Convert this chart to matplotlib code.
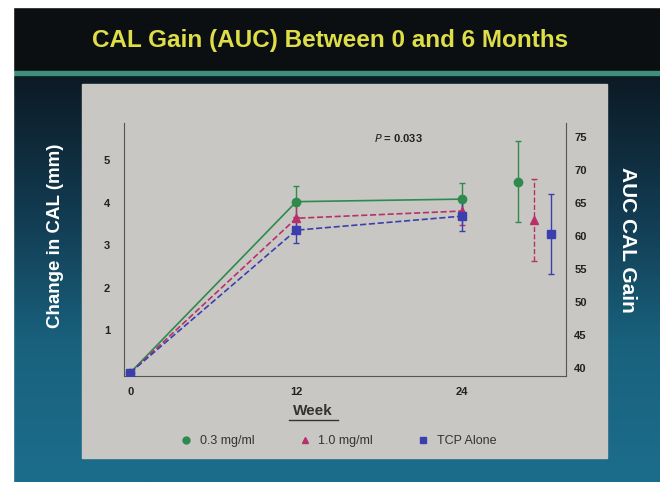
import numpy as np
import matplotlib
matplotlib.use("Agg")
import matplotlib.pyplot as plt
from matplotlib.patches import Rectangle
from matplotlib.lines import Line2D

plt.rcParams['font.family'] = ['Liberation Sans', 'DejaVu Sans']

# data
weeks = [0, 12, 24]
week_labels = ["0", "12", "24"]
series_names = ["0.3 mg/ml", "1.0 mg/ml", "TCP Alone"]
cal_low = [0.0, 4.02, 4.08]
cal_low_err = [0.0, 0.38, 0.38]
cal_high = [0.0, 3.63, 3.8]
cal_high_err = [0.0, 0.32, 0.32]
cal_tcp = [0.0, 3.35, 3.68]
cal_tcp_err = [0.0, 0.3, 0.36]
auc_values = [68.2, 62.4, 60.3]
auc_err = [6.1, 6.2, 6.0]

colors = ["#2f8a4e", "#b8306a", "#3b3fae"]
markers = ["o", "^", "s"]
styles = ["-", "--", "--"]
err_styles = ["-", "--", "-"]

fig = plt.figure(figsize=(6.6, 4.82), dpi=100)

# background (pixel coords)
bg = fig.add_axes([0, 0, 1, 1])
bg.set_xlim(0, 660)
bg.set_ylim(482, 0)
bg.axis("off")
grad = np.linspace(0, 1, 200).reshape(-1, 1)
cmap = matplotlib.colors.LinearSegmentedColormap.from_list(
    "bgc", ["#0c1a24", "#123a50", "#19627e", "#1c6d8c"])
bg.imshow(grad, cmap=cmap, extent=[13, 660, 482, 75], aspect="auto", zorder=0)
bg.add_patch(Rectangle((13, 7), 647, 68, color="#0b0f12", zorder=1))
bg.add_patch(Rectangle((13, 71), 647, 4, color="#3f8f7c", zorder=2))
bg.add_patch(Rectangle((0, 0), 13, 482, color="white", zorder=3))
bg.add_patch(Rectangle((0, 0), 660, 7, color="white", zorder=3))
bg.add_patch(Rectangle((82, 84), 525, 374, color="#c9c7c3", zorder=2))

fig.text(0.5, 1 - 41 / 482, "CAL Gain (AUC) Between 0 and 6 Months",
         ha="center", va="center", color="#dede48", fontsize=17.5, fontweight="bold")

ax = fig.add_axes([124 / 660, 106 / 482, 442 / 660, 253 / 482])
ax.patch.set_alpha(0)
ax.set_xlim(-0.46, 31.5)
ax.set_ylim(-0.08, 5.87)

data = [(cal_low, cal_low_err), (cal_high, cal_high_err), (cal_tcp, cal_tcp_err)]
for (vals, errs), c, m, ls in zip(data, colors, markers, styles):
    ax.errorbar(weeks, vals, yerr=errs, color=c, marker=m, markersize=6,
                linestyle=ls, linewidth=1.2, elinewidth=1, capsize=2.5, zorder=3)

ax.set_xticks(weeks)
ax.set_xticklabels(week_labels, fontsize=8, fontweight="bold", color="#222222")
ax.set_yticks([1, 2, 3, 4, 5])
ax.tick_params(axis="y", labelsize=8, length=0, colors="#222222", pad=10)
ax.tick_params(axis="x", length=0, pad=8)
for lab in ax.get_yticklabels():
    lab.set_fontweight("bold")
ax.spines["top"].set_visible(False)
ax.spines["right"].set_visible(False)
for s in ["left", "bottom"]:
    ax.spines[s].set_color("#555555")

ax2 = ax.twinx()
ax2.set_ylim(38.8, 77.1)
ax2.set_yticks(range(40, 80, 5))
ax2.tick_params(axis="y", labelsize=8, length=0, colors="#222222", pad=6)
for lab in ax2.get_yticklabels():
    lab.set_fontweight("bold")
ax2.spines["top"].set_visible(False)
ax2.spines["left"].set_visible(False)
ax2.spines["bottom"].set_visible(False)
ax2.spines["right"].set_color("#555555")

auc_x = [28.0, 29.2, 30.4]
for x, v, e, c, m, ls in zip(auc_x, auc_values, auc_err, colors, markers, err_styles):
    eb = ax2.errorbar([x], [v], yerr=[e], color=c, marker=m, markersize=6,
                      elinewidth=1, capsize=2.5, linestyle="none", zorder=3)
    eb[2][0].set_linestyle(ls)

ax.text(0.62, 0.94, "$\\mathbf{\\it{P}}$ = 0.033", transform=ax.transAxes,
        fontsize=8, fontweight="bold", ha="center", va="center", color="#222222")

fig.text(313 / 660, 1 - 411 / 482, "Week", ha="center", va="center",
         fontsize=11, fontweight="bold", color="#333333")
fig.add_artist(Line2D([289 / 660, 338 / 660], [1 - 420 / 482] * 2,
                      color="#333333", linewidth=1))

fig.text(56 / 660, 1 - 236 / 482, "Change in CAL (mm)", rotation=90, ha="center",
         va="center", fontsize=13.5, fontweight="bold", color="white")
fig.text(627 / 660, 1 - 240 / 482, "AUC CAL Gain", rotation=-90, ha="center",
         va="center", fontsize=15, fontweight="bold", color="white")

handles = [Line2D([], [], color=c, marker=m, linestyle="none", markersize=5)
           for c, m in zip(colors, markers)]
fig.legend(handles, series_names, loc="center", bbox_to_anchor=(335 / 660, 1 - 441 / 482),
           ncol=3, frameon=False, fontsize=9, handletextpad=0.1, columnspacing=3.0,
           labelcolor="#333333")

fig.savefig("out.png", dpi=100)
